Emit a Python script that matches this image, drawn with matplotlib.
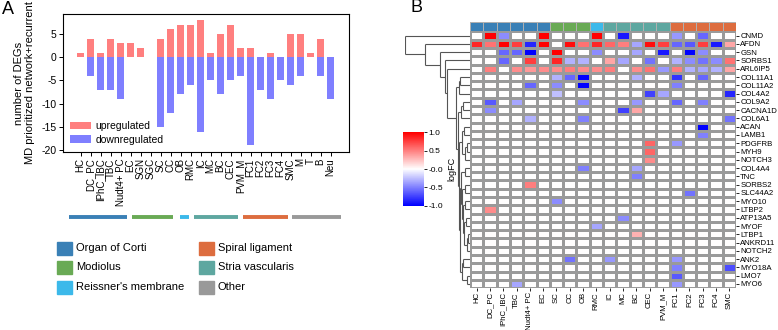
import numpy as np
import matplotlib
matplotlib.use("Agg")
import matplotlib.pyplot as plt
from matplotlib.patches import Rectangle
from matplotlib.colors import ListedColormap, Normalize
import matplotlib.colorbar as mcolorbar

plt.rcParams['font.family'] = ['Liberation Sans', 'DejaVu Sans']
plt.rcParams['axes.unicode_minus'] = False

# ---------------- data : panel A ----------------
bar_cats = ["HC", "DC_PC", "IPhC_IBC", "TBC", "Nudt4+ PC", "EC", "SGN", "SGC", "SC", "CC",
            "OB", "RMC", "IC", "MC", "BC", "CEC", "PVM_M", "FC1", "FC2", "FC3", "FC4",
            "SMC", "M", "T", "B", "Neu"]
up_counts = [1, 4, 1, 4, 3, 3, 2, 0, 4, 6, 7, 7, 8, 1, 5, 7, 2, 2, 0, 1, 0, 5, 5, 1, 4, 0]
down_counts = [0, -4, -7, -7, -9, 0, 0, 0, -15, -12, -8, -6, -16, -5, -8, -5, -4, -19, -7, -9,
               -5, -6, -4, 0, -4, -9]

group_names = ["Organ of Corti", "Modiolus", "Reissner's membrane",
               "Spiral ligament", "Stria vascularis", "Other"]
group_colors = {"Organ of Corti": "#3A80B6", "Modiolus": "#69AA55",
                "Reissner's membrane": "#3CB9EA", "Spiral ligament": "#DD6D3F",
                "Stria vascularis": "#5EA7A0", "Other": "#999999"}
# group bands under panel A (in bar-index units)
band_groups = ["Organ of Corti", "Modiolus", "Reissner's membrane",
               "Stria vascularis", "Spiral ligament", "Other"]
band_spans = [(-1.17, 4.63), (5.1, 9.26), (9.93, 10.86), (11.33, 15.76), (16.2, 20.7), (21.16, 26.0)]

# ---------------- data : panel B ----------------
genes = ["CNMD", "AFDN", "GSN", "SORBS1", "ARL6IP5", "COL11A1", "COL11A2", "COL4A2", "COL9A2",
         "CACNA1D", "COL6A1", "ACAN", "LAMB1", "PDGFRB", "MYH9", "NOTCH3", "COL4A4", "TNC",
         "SORBS2", "SLC44A2", "MYO10", "LTBP2", "ATP13A5", "MYOF", "LTBP1", "ANKRD11",
         "NOTCH2", "ANK2", "MYO18A", "LMO7", "MYO6"]
cells = ["HC", "DC_PC", "IPhC_IBC", "TBC", "Nudt4+ PC", "EC", "SC", "CC", "OB", "RMC", "IC",
         "MC", "BC", "CEC", "PVM_M", "FC1", "FC2", "FC3", "FC4", "SMC"]
cell_groups = (["Organ of Corti"] * 6 + ["Modiolus"] * 3 + ["Reissner's membrane"]
               + ["Stria vascularis"] * 5 + ["Spiral ligament"] * 5)
logfc = [
    [0, 1.0, -0.45, 0, 0, 1.0, 0, 0, 0, 1.0, 0, -0.9, 0, 0, 0, -0.4, 0, -0.6, 0, 0],
    [0.85, 0.55, 1.0, 0.75, -0.85, 1.0, 0, 0.95, 0.55, 0.85, 0.6, 0.5, -0.35, 0.95, 0.75, -0.6, -0.65, 0.75, -0.9, 0.35],
    [0, 0, -0.6, -0.6, -1.0, 0, 1.0, 0, 0, -0.45, 0, 0, -0.35, 0, -0.9, 0, -1.0, -0.45, 0, 0],
    [0, 0, -0.6, 0, 0.75, 0, 0.85, -0.3, -0.3, 0, 0.35, -0.35, 0, -0.55, 0, -0.3, -0.45, -0.55, -0.45, 0.55],
    [0, 0.5, 0, 0.45, 0.4, 0.45, 0.45, 0.5, 0.45, 0.45, 0.5, 0, 0.45, 0.55, -0.4, 0.5, -0.3, -0.35, -0.3, 0.35],
    [0, 0, 0, 0, 0, 0, -0.3, -0.6, -1.0, 0, 0, 0, -0.3, 0, 0, -0.8, 0, -0.6, 0, 0],
    [0, 0, 0, 0, -0.6, 0, -0.45, 0, -1.0, 0, 0, 0, 0, 0, 0, -0.5, 0, 0, 0, 0],
    [0, 0, 0, 0, 0, 0, -0.25, 0, 0, 0, 0, 0, 0, -0.75, -0.35, 0, 0, 0, 0, -0.85],
    [0, -0.65, 0, -0.35, 0, 0, 0, 0, -0.45, 0, 0, 0, -0.4, 0, 0, -0.6, 0, -0.5, 0, 0],
    [0, -0.45, 0, 0, 0, 0, 0, 0, 0, 0, 0, -0.75, 0.35, 0, 0, 0, 0, 0, 0, 0],
    [0, 0, 0, 0, -0.3, 0, 0, 0, -0.5, 0, 0, 0, 0, 0, 0, 0, 0, 0, 0, -0.55],
    [0, 0, 0, 0, 0, 0, 0, 0, 0, 0, 0, 0, 0, 0, 0, 0, 0, -1.0, 0, 0],
    [0, 0, 0, 0, 0, 0, 0, 0, 0, 0, 0, 0, 0, 0, 0, 0, 0, -0.5, 0, 0],
    [0, 0, 0, 0, 0, 0, 0, 0, 0, 0, 0, 0, 0, 0.6, 0, -0.4, 0, 0, 0, 0],
    [0, 0, 0, 0, 0, 0, 0, 0, 0, 0, 0, 0, 0, 0.6, 0, 0, 0, 0, 0, 0],
    [0, 0, 0, 0, 0, 0, 0, 0, 0, 0, 0, 0, 0, 0.45, 0, 0, 0, 0, 0, 0],
    [0, 0, 0, 0, 0, 0, 0, 0, -0.5, 0, 0, 0, -0.35, 0, 0, 0, 0, 0, 0, 0],
    [0, 0, 0, 0, 0, 0, 0, 0, 0, 0, 0, 0, -0.5, 0, 0, 0, 0, 0, 0, 0],
    [0, 0, 0, 0, 0.5, 0, 0, 0, 0, 0, 0, 0, 0, 0, 0, 0, 0, 0, 0, 0],
    [0, 0, 0, 0, 0, 0, 0, 0, 0, 0, 0, 0, 0, 0, 0, 0, -0.55, 0, 0, 0],
    [0, 0, 0, 0, 0, 0, -0.45, 0, 0, 0, 0, 0, 0, 0, 0, 0, 0, 0, 0, 0],
    [0, 0.45, 0, 0, 0, 0, 0, 0, 0, 0, 0, 0, 0, 0, 0, 0, 0, 0, 0, 0],
    [0, 0, 0, 0, 0, 0, 0, 0, 0, 0, 0, -0.45, 0, 0, 0, 0, 0, 0, 0, 0],
    [0, 0, 0, 0, 0, 0, 0, 0, 0, -0.35, 0, 0, 0, 0, 0, 0, 0, 0, 0, 0],
    [0, 0, 0, 0, 0, 0, 0, 0, 0, 0, 0, 0, 0.3, 0, 0, 0, 0, 0, 0, 0],
    [0, 0, 0, 0, 0, 0, 0, 0, 0, 0, 0, 0, 0, 0, 0, 0, 0, 0, 0, 0],
    [0, 0, 0, 0, 0, 0, 0, 0, 0, 0, 0, 0, 0, 0, 0, 0, 0, 0, 0, 0],
    [0, 0, 0, 0, 0, 0, 0, -0.55, 0, 0, -0.4, 0, 0, 0, 0, -0.4, 0, 0, 0, 0],
    [0, 0, 0, 0, 0, 0, 0, 0, 0, 0, 0, 0, 0, 0, 0, -0.5, 0, 0, 0, -0.7],
    [0, 0, 0, 0, 0, 0, 0, 0, 0, 0, 0, 0, 0, 0, 0, -0.65, 0, 0, 0, 0],
    [0, 0, 0, -0.35, 0, 0, 0, 0, 0, 0, 0, 0, 0, 0, 0, -0.4, 0, 0, 0, 0],
]

# row dendrogram (leaf = row index, node = (left, right, height))
clu_a = ((5, 6, 10), 7, 11.5)
clu_b = ((8, 9, 7), 10, 9)
clu_c = (11, 12, 6)
clu_d = ((13, 14, 3.5), 15, 5)
clu_cd = (clu_c, clu_d, 8)
clu_e = (16, 17, 5)
clu_f = (18, 19, 5)
clu_g = (20, 21, 5)
clu_h = (22, 23, 4)
clu_i = ((24, 25, 2.5), 26, 3.5)
clu_hi = (clu_h, clu_i, 6)
clu_ghi = (clu_g, clu_hi, 7)
clu_fghi = (clu_f, clu_ghi, 8)
clu_ef = (clu_e, clu_fghi, 9)
clu_j = ((27, 28, 7), (29, 30, 3.5), 8.5)
clu_ej = (clu_ef, clu_j, 10)
clu_low = (clu_cd, clu_ej, 11)
clu_rest = (clu_b, clu_low, 12.5)
clu_lower = (clu_a, clu_rest, 14)
dendro = (0, (1, (2, (3, (4, clu_lower, 23), 25), 30), 45), 65)

W, H = 778, 330
fig = plt.figure(figsize=(W / 100, H / 100), dpi=100)


def box(l, t, r, b):
    return [l / W, 1 - b / H, (r - l) / W, (b - t) / H]


# ---------------- panel A ----------------
ax = fig.add_axes(box(63, 14, 349, 152))
x = np.arange(len(bar_cats))
ax.bar(x, up_counts, width=0.7, color="#FF7F7F", label="upregulated")
ax.bar(x, down_counts, width=0.7, color="#7F7FFF", label="downregulated")
ax.set_xlim(-1.77, 26.83)
ax.set_ylim(-20.4, 9.3)
ax.set_yticks([-20, -15, -10, -5, 0, 5])
ax.set_xticks(x)
ax.set_xticklabels(bar_cats, rotation=90, fontsize=7)
ax.tick_params(axis='y', labelsize=7.5, length=3, width=0.7, pad=1.5)
ax.tick_params(axis='x', length=3, width=0.7, pad=1.5)
for s in ax.spines.values():
    s.set_linewidth(0.8)
ax.set_ylabel("number of DEGs\nMD prioritized network+recurrent", fontsize=8,
              linespacing=1.05, labelpad=5)
ax.legend(loc="lower left", frameon=False, fontsize=7.5, handlelength=2.0,
          handleheight=0.75, borderaxespad=0.3, labelspacing=0.35, handletextpad=0.4)

axg = fig.add_axes(box(63, 213, 349, 221))
axg.set_xlim(ax.get_xlim())
axg.set_ylim(0, 1)
axg.axis("off")
for g, (a, b) in zip(band_groups, band_spans):
    axg.plot([a, b], [0.5, 0.5], color=group_colors[g], lw=2.8, solid_capstyle="butt")

# bottom legend
for k, g in enumerate(group_names):
    col, row = divmod(k, 3)
    lx = 57 + col * 142
    ly = 248 + row * 19.5
    fig.patches.append(Rectangle((lx / W, 1 - (ly + 6.5) / H), 15 / W, 13 / H,
                                 transform=fig.transFigure, color=group_colors[g]))
    fig.text((lx + 19) / W, 1 - ly / H, g, fontsize=8, va="center", ha="left")

fig.text(8 / W, 1 - 9 / H, "A", fontsize=13, va="center", ha="center")
fig.text(417 / W, 1 - 8 / H, "B", fontsize=13, va="center", ha="center")

# ---------------- panel B ----------------
data = np.array(logfc)
nr, nc = data.shape
top, bot, left, right = 31.5, 288.1, 470, 736
axh = fig.add_axes(box(left, top, right, bot))
axh.pcolormesh(data, cmap="bwr", vmin=-1, vmax=1, edgecolors="#9a9a9a", linewidth=0.9)
axh.set_ylim(nr, 0)
axh.set_xlim(0, nc)
axh.yaxis.tick_right()
axh.set_yticks(np.arange(nr) + 0.5)
axh.set_yticklabels(genes, fontsize=5.6)
axh.set_xticks(np.arange(nc) + 0.5)
axh.set_xticklabels(cells, rotation=90, fontsize=5.6)
axh.tick_params(length=2, width=0.6, pad=1)
for s in axh.spines.values():
    s.set_visible(False)

# header
axc = fig.add_axes(box(left, 22, right, 31))
gidx = [group_names.index(g) for g in cell_groups]
cmap_g = ListedColormap([group_colors[g] for g in group_names])
axc.pcolormesh(np.array([gidx]), cmap=cmap_g, vmin=-0.5, vmax=len(group_names) - 0.5,
               edgecolors="#b0b0b0", linewidth=0.6)
axc.set_xlim(0, nc)
axc.axis("off")

# dendrogram
axd = fig.add_axes(box(405, top, left, bot))
axd.set_ylim(nr, 0)
axd.set_xlim(65, 0)
axd.axis("off")


def draw(node):
    if isinstance(node, int):
        return node + 0.5, 0.0
    l, r, h = node
    yl, hl = draw(l)
    yr, hr = draw(r)
    kw = dict(color="#555555", lw=0.8, solid_capstyle="butt")
    axd.plot([hl, h], [yl, yl], **kw)
    axd.plot([hr, h], [yr, yr], **kw)
    axd.plot([h, h], [yl, yr], **kw)
    return (yl + yr) / 2, h


draw(dendro)

# colorbar
cax = fig.add_axes(box(403, 132.3, 424, 205.7))
cb = mcolorbar.ColorbarBase(cax, cmap=plt.get_cmap("bwr"), norm=Normalize(-1, 1))
cb.set_ticks([1.0, 0.5, 0.0, -0.5, -1.0])
cb.set_ticklabels(["1.0", "0.5", "-0.0", "-0.5", "-1.0"])
cb.outline.set_visible(False)
cax.tick_params(labelsize=6, length=2, width=0.6, pad=1)
cb.set_label("logFC", fontsize=6.5, labelpad=3)

fig.savefig("out.png", dpi=100)
